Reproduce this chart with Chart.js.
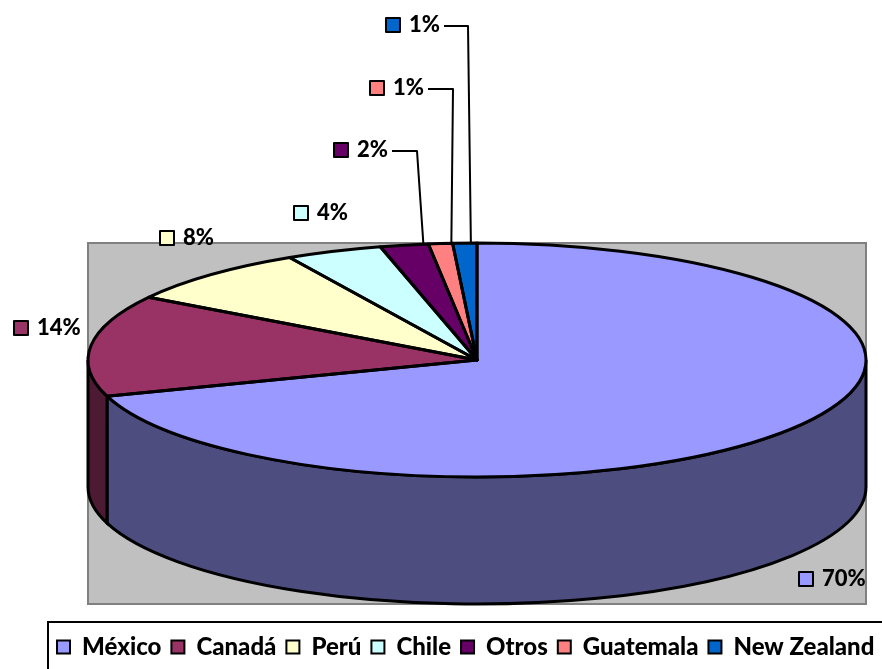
<!DOCTYPE html>
<html>
<head>
<meta charset="utf-8">
<title>Pie</title>
<script src="https://cdn.jsdelivr.net/npm/chart.js@4/dist/chart.umd.js"></script>
<style>
  html, body { margin: 0; background: #fff; overflow: hidden; }
  canvas { display: block; }
</style>
</head>
<body>
<canvas id="pie" width="882" height="669"></canvas>
<script>
const paises = ['México', 'Canadá', 'Perú', 'Chile', 'Otros', 'Guatemala', 'New Zealand'];
const porcentajes = [70, 14, 8, 4, 2, 1, 1];
const colores = ['#9999FF', '#993366', '#FFFFCC', '#CCFFFF', '#660066', '#FF8080', '#0066CC'];
const coloresLado = ['#4D4D80', '#4D1A33', '#808066', '#668080', '#330033', '#804040', '#003366'];

// pie geometry on the page
const cx = 477, cy = 360, rx = 389, ry = 117, depth = 127;
const plot = { left: 88, top: 243, right: 866, bottom: 604 };
const fontFamily = 'Lato, "Open Sans", sans-serif';

// marker position for each slice label, plus the elbow of its leader line if it has one
const etiquetas = [
    { x: 799, y: 572 },
    { x: 14, y: 321 },
    { x: 160, y: 231 },
    { x: 294, y: 206 },
    { x: 334, y: 143, codo: [392, 417, 0.9] },
    { x: 370, y: 81, codo: [428, 453, 0.95] },
    { x: 386, y: 18, codo: [444, 468, 0.75] }
];

// squashes the round pie into the tilted ellipse
const tilt = {
    id: 'tilt',
    beforeDraw(chart) {
        const ctx = chart.ctx;
        ctx.save();
        ctx.fillStyle = '#C0C0C0';
        ctx.strokeStyle = '#808080';
        ctx.lineWidth = 2;
        ctx.fillRect(plot.left, plot.top, plot.right - plot.left, plot.bottom - plot.top);
        ctx.strokeRect(plot.left, plot.top, plot.right - plot.left, plot.bottom - plot.top);
        // legend frame runs off the page on the right and bottom
        ctx.strokeStyle = '#000';
        ctx.lineWidth = 2;
        ctx.strokeRect(48, 622, 900, 100);
        ctx.restore();
    },
    beforeDatasetsDraw(chart) {
        const ctx = chart.ctx;
        const arcs = chart.getDatasetMeta(0).data;

        // side wall, only the front half of the rim shows
        arcs.forEach((arc, i) => {
            const a0 = Math.max(arc.startAngle, 0);
            const a1 = Math.min(arc.endAngle, Math.PI);
            if (a1 <= a0) return;
            ctx.beginPath();
            ctx.ellipse(cx, cy, rx, ry, 0, a0, a1);
            ctx.ellipse(cx, cy + depth, rx, ry, 0, a1, a0, true);
            ctx.closePath();
            ctx.fillStyle = coloresLado[i];
            ctx.strokeStyle = '#000';
            ctx.lineWidth = 3;
            ctx.fill();
            ctx.stroke();
        });

        const r = arcs[0].outerRadius;
        ctx.save();
        ctx.translate(cx, cy);
        ctx.scale(rx / r, ry / r);
        ctx.translate(-arcs[0].x, -arcs[0].y);
    },
    afterDatasetsDraw(chart) {
        const ctx = chart.ctx;
        ctx.restore();
        const arcs = chart.getDatasetMeta(0).data;

        // outlines are stroked after the transform is gone so the width stays even
        ctx.save();
        ctx.strokeStyle = '#000';
        ctx.lineWidth = 3;
        ctx.lineJoin = 'round';
        arcs.forEach(arc => {
            ctx.beginPath();
            ctx.moveTo(cx, cy);
            ctx.ellipse(cx, cy, rx, ry, 0, arc.startAngle, arc.endAngle);
            ctx.closePath();
            ctx.stroke();
        });

        // slice labels with their colour key
        ctx.font = '900 22px ' + fontFamily;
        ctx.textBaseline = 'middle';
        ctx.textAlign = 'left';
        ctx.lineWidth = 2;
        porcentajes.forEach((v, i) => {
            const e = etiquetas[i];
            ctx.fillStyle = colores[i];
            ctx.fillRect(e.x, e.y, 14, 14);
            ctx.strokeRect(e.x, e.y, 14, 14);
            ctx.fillStyle = '#000';
            ctx.fillText(v + '%', e.x + 23, e.y + 7);

            if (e.codo) {
                const arc = arcs[i];
                const a = arc.startAngle + (arc.endAngle - arc.startAngle) * e.codo[2];
                ctx.beginPath();
                ctx.moveTo(e.codo[0], e.y + 8);
                ctx.lineTo(e.codo[1], e.y + 8);
                ctx.lineTo(cx + rx * Math.cos(a), cy + ry * Math.sin(a));
                ctx.stroke();
            }
        });
        ctx.restore();
    }
};

new Chart(document.getElementById('pie'), {
    type: 'pie',
    data: {
        labels: paises,
        datasets: [{
            data: porcentajes,
            backgroundColor: colores,
            borderWidth: 0,
            clip: false
        }]
    },
    options: {
        responsive: false,
        animation: false,
        events: [],
        layout: { padding: { left: 47, right: -60 } },
        plugins: {
            tooltip: { enabled: false },
            legend: {
                position: 'bottom',
                align: 'start',
                labels: {
                    boxWidth: 13,
                    boxHeight: 13,
                    padding: 10,
                    color: '#000',
                    font: { family: fontFamily, size: 24, weight: '900' },
                    generateLabels: chart => paises.map((p, i) => ({
                        text: p,
                        fillStyle: colores[i],
                        strokeStyle: '#000',
                        lineWidth: 2,
                        index: i
                    }))
                }
            }
        }
    },
    plugins: [tilt]
});
</script>
</body>
</html>
